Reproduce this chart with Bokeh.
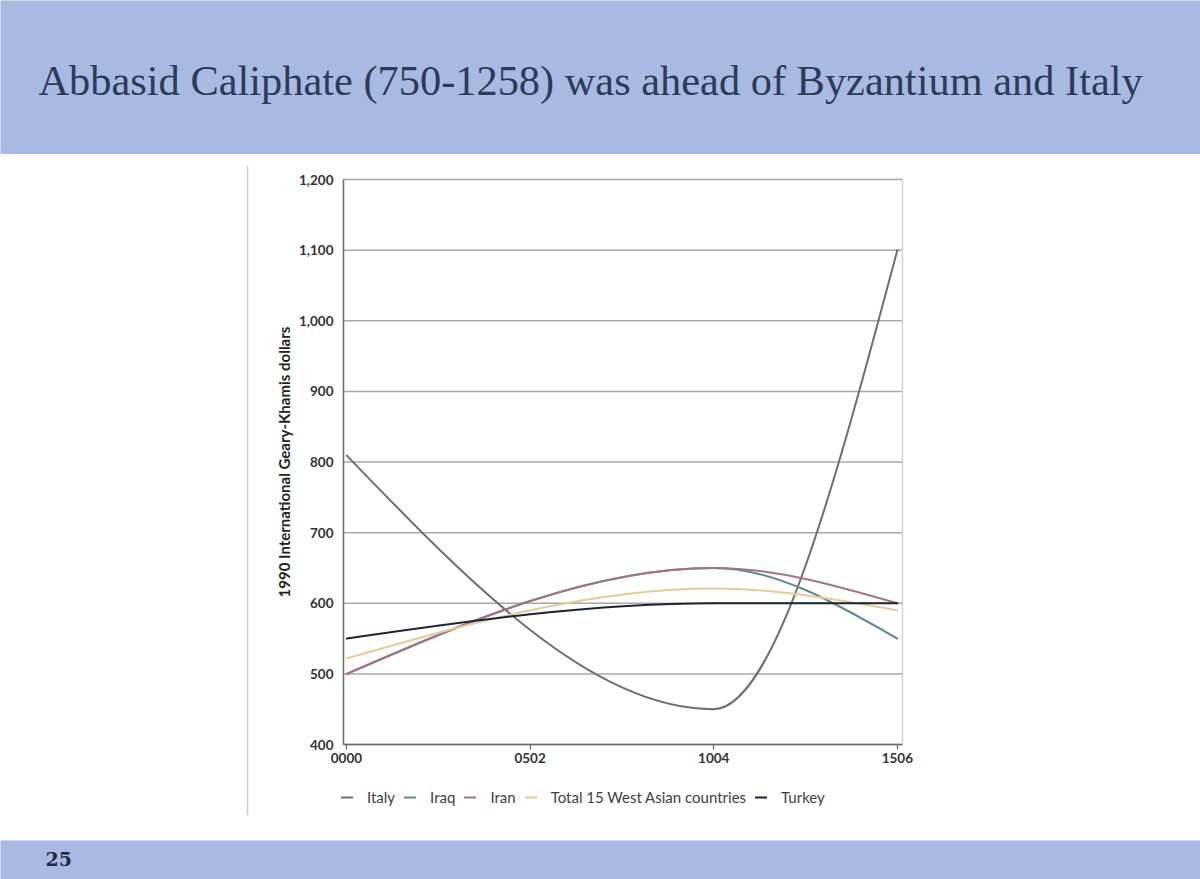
import math
from bokeh.plotting import figure
from bokeh.models import (Label, Legend, LegendItem, FixedTicker, Range1d, NumeralTickFormatter,
                          LinearAxis)
from bokeh.layouts import column, row
from bokeh.embed import file_html
from bokeh.resources import INLINE

# ---------------- data ----------------
title_text = "Abbasid Caliphate (750-1258) was ahead of Byzantium and Italy"
slide_number = "25"
y_axis_title = "1990 International Geary-Khamis dollars"

years = [1, 1000, 1500]
italy = [809, 450, 1100]
iraq = [500, 650, 550]
iran = [500, 650, 600]
total_west_asia = [522, 621, 590]
turkey = [550, 600, 600]

series_names = ["Italy", "Iraq", "Iran", "Total 15 West Asian countries", "Turkey"]
series_values = [italy, iraq, iran, total_west_asia, turkey]
series_colors = ["#6E6E6E", "#5E8795", "#A27483", "#E4CA9E", "#1C2434"]

x_ticks = [0, 500, 1000, 1500]
x_tick_labels = ["0000", "0502", "1004", "1506"]
y_ticks = [400, 500, 600, 700, 800, 900, 1000, 1100, 1200]
y_min, y_max = 400, 1200
x_lo, x_hi = -8, 1514          # extent of the plot area on the year axis

BAND = "#A8BAE1"
TITLE_COLOR = "#2E3A5A"
W = 1200


def sign(v):
    return (v > 0) - (v < 0)


def monotone_segments(xs, ys):
    """Bezier control points of a monotone cubic (curveMonotoneX-style) smoothed line."""
    n = len(xs)
    h = [xs[i + 1] - xs[i] for i in range(n - 1)]
    s = [(ys[i + 1] - ys[i]) / h[i] for i in range(n - 1)]
    m = [0.0] * n
    for i in range(1, n - 1):
        h0, h1, s0, s1 = h[i - 1], h[i], s[i - 1], s[i]
        pp = (s0 * h1 + s1 * h0) / (h0 + h1)
        m[i] = (sign(s0) + sign(s1)) * min(abs(s0), abs(s1), 0.5 * abs(pp))
    m[0] = (3 * s[0] - m[1]) / 2
    m[-1] = (3 * s[-1] - m[-2]) / 2
    out = dict(x0=[], y0=[], x1=[], y1=[], cx0=[], cy0=[], cx1=[], cy1=[])
    for i in range(n - 1):
        d = h[i] / 3.0
        out["x0"].append(xs[i]); out["y0"].append(ys[i])
        out["x1"].append(xs[i + 1]); out["y1"].append(ys[i + 1])
        out["cx0"].append(xs[i] + d); out["cy0"].append(ys[i] + m[i] * d)
        out["cx1"].append(xs[i + 1] - d); out["cy1"].append(ys[i + 1] - m[i + 1] * d)
    return out


# ---------------- title band ----------------
TOP_H = 154
top = figure(width=W, height=TOP_H, x_range=Range1d(0, W), y_range=Range1d(0, TOP_H),
             output_backend="svg", toolbar_location=None, min_border=0,
             x_axis_location=None, y_axis_location=None)
top.grid.visible = False
top.outline_line_color = None
top.background_fill_color = BAND
top.border_fill_color = BAND
top.add_layout(Label(x=38, y=TOP_H - 80, text=title_text, text_font="Liberation Serif",
                     text_font_size="42.4px", text_color=TITLE_COLOR,
                     text_baseline="middle", text_align="left"))

# ---------------- chart ----------------
MID_H = 686
BORDER_T, BORDER_B = 11, 25    # px above / below the drawing frame
PAD_T = 14                     # px between frame top and the 1,200 line
PLOT_L, PLOT_R = 98, 18        # px between panel edge and plot area (left / right)
PLOT_W = 559                   # px width of the plot area
PLOT_H = 565                   # px height of the 400..1200 span
FRAME_H = MID_H - BORDER_T - BORDER_B
ppx = PLOT_W / (x_hi - x_lo)   # px per year
ppy = PLOT_H / (y_max - y_min) # px per dollar
y_top = y_max + PAD_T / ppy

p = figure(width=W, height=MID_H,
           x_range=Range1d(x_lo - PLOT_L / ppx, x_hi + PLOT_R / ppx),
           y_range=Range1d(y_top - FRAME_H / ppy, y_top),
           output_backend="svg", toolbar_location=None,
           min_border_left=245, min_border_right=280,
           min_border_top=BORDER_T, min_border_bottom=BORDER_B)
p.background_fill_color = "white"
p.border_fill_color = "white"
p.outline_line_color = None
p.grid.visible = False

# horizontal gridlines across the plot area only
p.segment(x0=[x_lo] * len(y_ticks), y0=y_ticks, x1=[x_hi] * len(y_ticks), y1=y_ticks,
          line_color="#A8A8A8", line_width=1.5, level="underlay")

p.xaxis.ticker = FixedTicker(ticks=x_ticks)
p.xaxis.major_label_overrides = {t: l for t, l in zip(x_ticks, x_tick_labels)}
p.xaxis.fixed_location = y_min
p.xaxis.bounds = (x_lo, x_hi)
p.yaxis.ticker = FixedTicker(ticks=y_ticks)
p.yaxis.formatter = NumeralTickFormatter(format="0,0")
p.yaxis.fixed_location = x_lo
p.yaxis.bounds = (y_min, y_max)

for ax in (p.xaxis, p.yaxis):
    ax.axis_line_color = "#6A6A6A"
    ax.axis_line_width = 1.5
    ax.major_tick_line_color = "#6A6A6A"
    ax.major_tick_line_width = 1.2
    ax.minor_tick_line_color = None
    ax.major_tick_in = 0
    ax.major_label_text_font = "Lato"
    ax.major_label_text_font_style = "bold"
    ax.major_label_text_font_size = "13.5px"
    ax.major_label_text_color = "#333333"

p.xaxis.major_tick_out = 5
p.xaxis.major_label_standoff = 3
p.yaxis.major_tick_out = 0
p.yaxis.major_label_standoff = 10

# y-axis title, centred on the 400..1200 span
p.add_layout(Label(x=x_lo - 60 / ppx, y=(y_min + y_max) / 2, text=y_axis_title,
                   angle=math.pi / 2, text_align="center", text_baseline="middle",
                   text_font="Lato", text_font_style="bold", text_font_size="15px",
                   text_color="#222222"))

# faint right-hand border of the plot area
right_edge = LinearAxis(fixed_location=x_hi, bounds=(y_min, y_max), ticker=FixedTicker(ticks=[]),
                        axis_line_color="#D2D2D2", axis_line_width=1.5,
                        major_tick_line_color=None, minor_tick_line_color=None,
                        major_label_text_font_size="0px")
p.add_layout(right_edge, "right")

# faint left edge of the white chart panel
panel_edge = LinearAxis(fixed_location=x_lo - (PLOT_L - 1.5) / ppx, ticker=FixedTicker(ticks=[]),
                        axis_line_color="#CFCFCF", axis_line_width=1.5,
                        major_tick_line_color=None, minor_tick_line_color=None,
                        major_label_text_font_size="0px")
p.add_layout(panel_edge, "left")

items = []
for name, vals, color in zip(series_names, series_values, series_colors):
    seg = monotone_segments(years, vals)
    r = p.bezier(x0=seg["x0"], y0=seg["y0"], x1=seg["x1"], y1=seg["y1"],
                 cx0=seg["cx0"], cy0=seg["cy0"], cx1=seg["cx1"], cy1=seg["cy1"],
                 line_color=color, line_width=2, line_cap="round")
    items.append(LegendItem(label=name, renderers=[r]))

legend = Legend(items=items, orientation="horizontal", location=(96, 9),
                border_line_color=None, background_fill_alpha=0,
                padding=0, margin=0, spacing=9, glyph_width=12, glyph_height=16,
                label_standoff=14, label_height=16,
                label_text_font="Lato", label_text_font_size="15px",
                label_text_color="#404040")
p.add_layout(legend, "center")

# ---------------- bottom band ----------------
BOT_H = 39
bottom = figure(width=W, height=BOT_H, x_range=Range1d(0, W), y_range=Range1d(0, BOT_H),
                output_backend="svg", toolbar_location=None, min_border=0,
                x_axis_location=None, y_axis_location=None)
bottom.grid.visible = False
bottom.outline_line_color = None
bottom.background_fill_color = BAND
bottom.border_fill_color = BAND
bottom.add_layout(Label(x=45, y=BOT_H - 18, text=slide_number, text_font="DejaVu Serif",
                        text_font_style="bold", text_font_size="19px",
                        text_color="#1E2844", text_baseline="middle"))

# ---------------- layout ----------------
layout = column(row(top), row(p), row(bottom))

open("out.html", "w").write(file_html(layout, INLINE))
